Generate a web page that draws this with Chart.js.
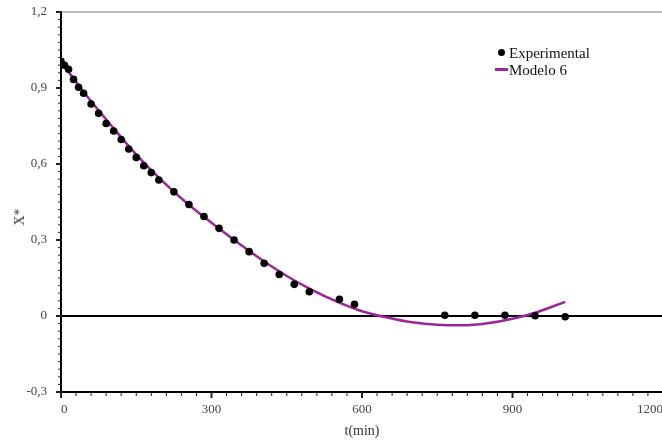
<!DOCTYPE html>
<html>
<head>
<meta charset="utf-8">
<script src="https://cdn.jsdelivr.net/npm/chart.js@4/dist/chart.umd.min.js"></script>
<style>
html, body { margin: 0; padding: 0; background: #fff; overflow: hidden; }
#wrap { position: relative; width: 667px; height: 441px; }
.lbl { position: absolute; font: 15px "Liberation Serif", serif; color: #111; line-height: 18px; white-space: nowrap; }
#ytitle { position: absolute; left: 20px; top: 217px; transform: translate(-50%, -50%) rotate(-90deg);
  font: 14px "Liberation Serif", serif; color: #333; }
</style>
</head>
<body>
<div id="wrap">
  <canvas id="chart"></canvas>
  <div style="position:absolute;left:498px;top:49px;width:7px;height:7px;border-radius:50%;background:#000"></div>
  <span class="lbl" id="leg0" style="left:509px;top:44px"></span>
  <div style="position:absolute;left:495px;top:68px;width:13px;height:3px;background:#9b259b"></div>
  <span class="lbl" id="leg1" style="left:509px;top:61px"></span>
  <div id="ytitle">X*</div>
</div>
<script>
"use strict";

// #region Data
const seriesNames = ["Experimental", "Modelo 6"];
const expTime = [0, 7, 15, 25, 35, 45, 60, 75, 90, 105, 120, 135, 150, 165, 180, 195,
    225, 255, 285, 315, 345, 375, 405, 435, 465, 495, 555, 585, 765, 825, 885, 945, 1005];
const expValues = [1.005, 0.99, 0.974, 0.934, 0.903, 0.879, 0.837, 0.80, 0.76, 0.73, 0.697, 0.659, 0.626, 0.593, 0.566, 0.537,
    0.49, 0.44, 0.393, 0.346, 0.30, 0.254, 0.208, 0.164, 0.125, 0.096, 0.066, 0.046, 0.003, 0.003, 0.003, 0.001, -0.003];
const modelTime = [0, 50, 100, 150, 200, 250, 300, 350, 400, 450, 500, 550, 600, 650, 700, 750, 800, 850, 900, 950, 1005];
const modelValues = [1.003, 0.872, 0.752, 0.637, 0.536, 0.447, 0.368, 0.293, 0.222, 0.158, 0.103, 0.057, 0.019, -0.006,
    -0.025, -0.035, -0.037, -0.029, -0.011, 0.016, 0.056];
const xTitle = "t(min)";
// #endregion

document.getElementById("leg0").textContent = seriesNames[0];
document.getElementById("leg1").textContent = seriesNames[1];

const toPoints = (xs, ys) => xs.map((x, i) => ({ x: x, y: ys[i] }));
const commaLabel = (v) => String(Math.round(v * 10) / 10).replace(".", ",");

// #region Plugins
/* Frame on top/right plus minor ticks on both axes */
const axisDecor = {
    id: "axisDecor",
    beforeDatasetsDraw(chart) {
        const { ctx, chartArea } = chart;
        ctx.save();
        ctx.strokeStyle = "#a8a8a8";
        ctx.lineWidth = 1.5;
        ctx.beginPath();
        ctx.moveTo(chartArea.left, chartArea.top);
        ctx.lineTo(chartArea.right, chartArea.top);
        ctx.lineTo(chartArea.right, chartArea.bottom);
        ctx.stroke();
        ctx.restore();
    },
    afterDraw(chart) {
        const { ctx, chartArea } = chart;
        const xs = chart.scales.x;
        const ys = chart.scales.y;
        ctx.save();
        ctx.strokeStyle = "#222";
        for (let i = 0; i <= 40; i++) {
            const px = xs.getPixelForValue(i * 30);
            const major = i % 10 === 0;
            ctx.lineWidth = major ? 2 : 1;
            ctx.beginPath();
            ctx.moveTo(px, chartArea.bottom);
            ctx.lineTo(px, chartArea.bottom + (major ? 6 : 4));
            ctx.stroke();
        }
        for (let i = 0; i <= 50; i++) {
            const py = ys.getPixelForValue(-0.3 + i * 0.03);
            const major = i % 10 === 0;
            ctx.lineWidth = major ? 2 : 1;
            ctx.beginPath();
            ctx.moveTo(chartArea.left - (major ? 5 : 3), py);
            ctx.lineTo(chartArea.left + 1, py);
            ctx.stroke();
        }
        ctx.restore();
    },
};
// #endregion

// #region Chart
const config = {
    type: "scatter",
    data: {
        datasets: [
            {
                label: seriesNames[0],
                data: toPoints(expTime, expValues),
                backgroundColor: "#000",
                borderWidth: 0,
                pointRadius: 3.8,
            },
            {
                label: seriesNames[1],
                data: toPoints(modelTime, modelValues),
                showLine: true,
                borderColor: "#9b259b",
                borderWidth: 2.5,
                pointRadius: 0,
                cubicInterpolationMode: "monotone",
            },
        ],
    },
    options: {
        responsive: true,
        maintainAspectRatio: false,
        animation: false,
        layout: { padding: { top: 12, right: 0, bottom: 0, left: 0 } },
        plugins: { legend: { display: false }, tooltip: { enabled: false } },
        scales: {
            x: {
                type: "linear",
                min: 0,
                max: 1200,
                ticks: {
                    stepSize: 300,
                    padding: 10,
                    align: "inner",
                    color: "#444",
                    font: { family: "Liberation Serif", size: 13 },
                    callback: (v) => String(v),
                },
                grid: { display: false, drawTicks: false },
                border: { color: "#000", width: 2 },
                title: {
                    display: true,
                    text: xTitle,
                    color: "#333",
                    font: { family: "Liberation Serif", size: 14 },
                    padding: { top: 0, bottom: 1 },
                },
                afterFit(scale) {
                    scale.height = 49;
                    scale.paddingRight = 0;
                    scale.paddingLeft = 0;
                },
            },
            y: {
                type: "linear",
                min: -0.3,
                max: 1.2,
                ticks: {
                    stepSize: 0.3,
                    padding: 14,
                    color: "#444",
                    font: { family: "Liberation Serif", size: 13 },
                    callback: (v) => commaLabel(v),
                },
                grid: {
                    drawTicks: false,
                    color: (c) => (c.tick && Math.abs(c.tick.value) < 1e-9 ? "#000" : "rgba(0,0,0,0)"),
                    lineWidth: (c) => (c.tick && Math.abs(c.tick.value) < 1e-9 ? 2 : 0),
                },
                border: { color: "#000", width: 2 },
                afterFit(scale) {
                    scale.width = 61;
                    scale.paddingTop = 0;
                    scale.paddingBottom = 0;
                },
            },
        },
    },
    plugins: [axisDecor],
};

const myChart = new Chart(document.getElementById("chart"), config);
// #endregion
</script>
</body>
</html>
